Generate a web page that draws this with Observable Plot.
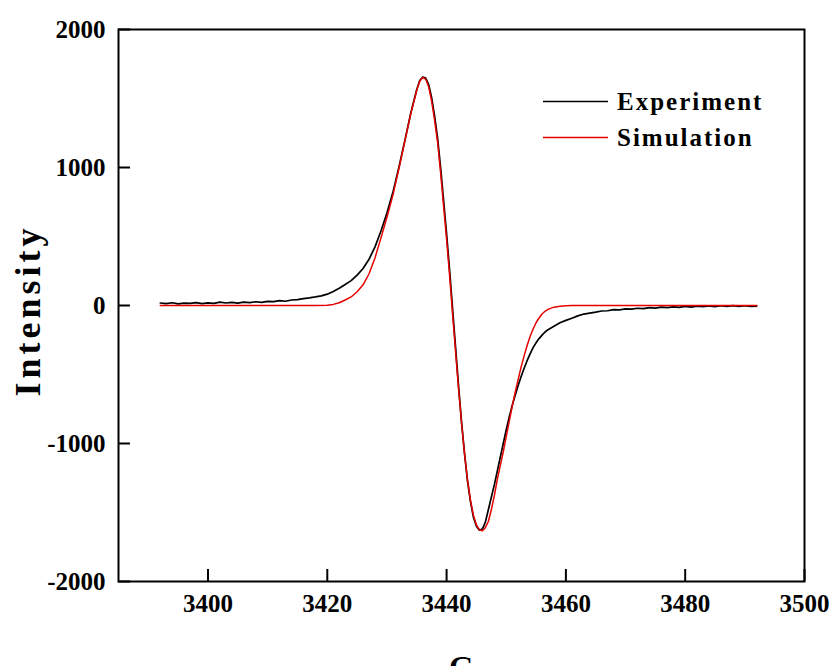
<!DOCTYPE html>
<html><head><meta charset="utf-8">
<script src="https://cdn.jsdelivr.net/npm/d3@7"></script>
<script src="https://cdn.jsdelivr.net/npm/@observablehq/plot@0.6"></script>
<style>body{margin:0;background:#fff;overflow:hidden} svg{overflow:visible}</style>
</head><body><div id="chart"></div>
<script>
// Experiment (black) — field G, intensity
const expG = [3392,3393,3394,3395,3396,3397,3398,3399,3400,3401,3402,3403,3404,3405,3406,3407,3408,3409,3410,3411,3412,3413,3414,3415,3416,3417,3418,3419,3420,3421,3422,3423,3424,3425,3426,3427,3428,3429,3430,3431,3432,3433,3434,3435,3435.5,3436,3436.5,3437,3437.5,3438,3438.5,3439,3439.5,3440,3440.5,3441,3441.5,3442,3442.5,3443,3443.5,3444,3444.5,3445,3445.5,3446,3446.5,3447,3447.5,3448,3448.5,3449,3449.5,3450,3450.5,3451,3451.5,3452,3452.5,3453,3453.5,3454,3454.5,3455,3455.5,3456,3456.5,3457,3458,3459,3460,3461,3462,3463,3464,3465,3466,3467,3468,3469,3470,3471,3472,3473,3474,3475,3476,3477,3478,3479,3480,3481,3482,3483,3484,3485,3486,3487,3488,3489,3490,3491,3492];
const expI = [18,14,20,12,17,15,21,13,19,16,24,18,22,17,25,21,27,23,30,28,35,31,40,42,50,55,62,70,82,102,125,152,180,220,268,335,425,540,670,820,1000,1195,1395,1565,1630,1655,1648,1600,1505,1370,1210,1000,760,520,260,-20,-300,-580,-840,-1070,-1270,-1420,-1535,-1600,-1628,-1620,-1570,-1480,-1390,-1300,-1200,-1100,-1000,-900,-810,-725,-650,-580,-515,-455,-400,-350,-305,-270,-240,-215,-192,-175,-150,-125,-108,-92,-75,-62,-55,-48,-40,-38,-30,-32,-24,-26,-20,-22,-15,-19,-12,-16,-10,-14,-6,-12,-4,-9,-3,-8,-2,-7,-1,-6,-2,-7,-4];
// Simulation (red)
const simG = [3392,3400,3410,3418,3420,3421,3422,3423,3424,3425,3426,3427,3428,3429,3430,3431,3432,3433,3434,3435,3435.5,3436,3436.5,3437,3437.5,3438,3438.5,3439,3439.5,3440,3440.5,3441,3441.5,3442,3442.5,3443,3443.5,3444,3444.5,3445,3445.5,3446,3446.5,3447,3447.5,3448,3448.5,3449,3449.5,3450,3450.5,3451,3451.5,3452,3452.5,3453,3453.5,3454,3454.5,3455,3455.5,3456,3456.5,3457,3458,3459,3460,3461,3470,3480,3492];
const simI = [0,0,0,0,2,8,20,40,62,100,150,230,345,490,640,800,990,1190,1390,1560,1625,1652,1640,1585,1480,1340,1180,960,720,480,220,-60,-330,-600,-850,-1070,-1260,-1410,-1520,-1590,-1625,-1632,-1610,-1565,-1480,-1380,-1260,-1160,-1060,-950,-840,-730,-630,-535,-445,-365,-290,-225,-170,-125,-90,-62,-42,-28,-12,-5,-2,0,0,0,0];

const xTicks = [3400,3420,3440,3460,3480,3500];
const yTicks = [-2000,-1000,0,1000,2000];
const seriesNames = ["Experiment","Simulation"];
const seriesColors = ["#000000","#e60000"];
const xLabel = "G";
const yLabel = "Intensity";

const expData = expG.map((g,i)=>({g, v: expI[i]}));
const simData = simG.map((g,i)=>({g, v: simI[i]}));

const W = 834, H = 666, mL = 118, mR = 30, mT = 29, mB = 85;
const font = "'Liberation Serif','Times New Roman',serif";

function legend(index, scales, values, dims) {
  const g = d3.create("svg:g");
  seriesNames.forEach((name, i) => {
    const y = 101.5 + i * 36;
    g.append("line").attr("x1", 543).attr("x2", 608).attr("y1", y).attr("y2", y)
      .attr("stroke", seriesColors[i]).attr("stroke-width", 1.5);
    g.append("text").attr("x", 617).attr("y", y + 8)
      .attr("text-anchor", "start")
      .attr("font-family", font).attr("font-size", 25).attr("font-weight", "bold")
      .attr("letter-spacing", "2px").attr("fill", "black").text(name);
  });
  return g.node();
}

const chart = Plot.plot({
  width: W, height: H,
  marginLeft: mL, marginRight: mR, marginTop: mT, marginBottom: mB,
  style: {fontFamily: font, fontSize: "25px", fontWeight: "bold", background: "white", color: "black"},
  x: {domain: [3385, 3500], axis: null},
  y: {domain: [-2000, 2000], axis: null},
  marks: [
    Plot.line(expData, {x: "g", y: "v", stroke: seriesColors[0], strokeWidth: 1.7}),
    Plot.line(simData, {x: "g", y: "v", stroke: seriesColors[1], strokeWidth: 1.5}),
    Plot.frame({stroke: "black", strokeWidth: 2}),
    Plot.tickX(xTicks, {x: d => d, insetTop: 540, stroke: "black", strokeWidth: 2}),
    Plot.tickY(yTicks, {y: d => d, insetRight: 674, stroke: "black", strokeWidth: 2}),
    Plot.axisX(xTicks, {tickSize: 0, tickPadding: 13, tickFormat: d => String(d), fontSize: 25, fontWeight: "bold", label: null}),
    Plot.axisY(yTicks, {tickSize: 0, tickPadding: 13, tickFormat: d => String(d), fontSize: 25, fontWeight: "bold", label: null}),
    Plot.text([yLabel], {frameAnchor: "left", text: d => d, rotate: -90, dx: -90, dy: 5, textAnchor: "middle", fontSize: 36, fontWeight: "bold", fill: "black"}),
    Plot.text([xLabel], {frameAnchor: "bottom", text: d => d, dy: 74, textAnchor: "middle", lineAnchor: "top", fontSize: 32, fontWeight: "bold", fill: "black"}),
    legend
  ]
});
chart.querySelectorAll("text").forEach(t => { if (t.textContent === yLabel) t.setAttribute("letter-spacing", "4px"); });
document.getElementById("chart").appendChild(chart);
</script>
</body></html>
